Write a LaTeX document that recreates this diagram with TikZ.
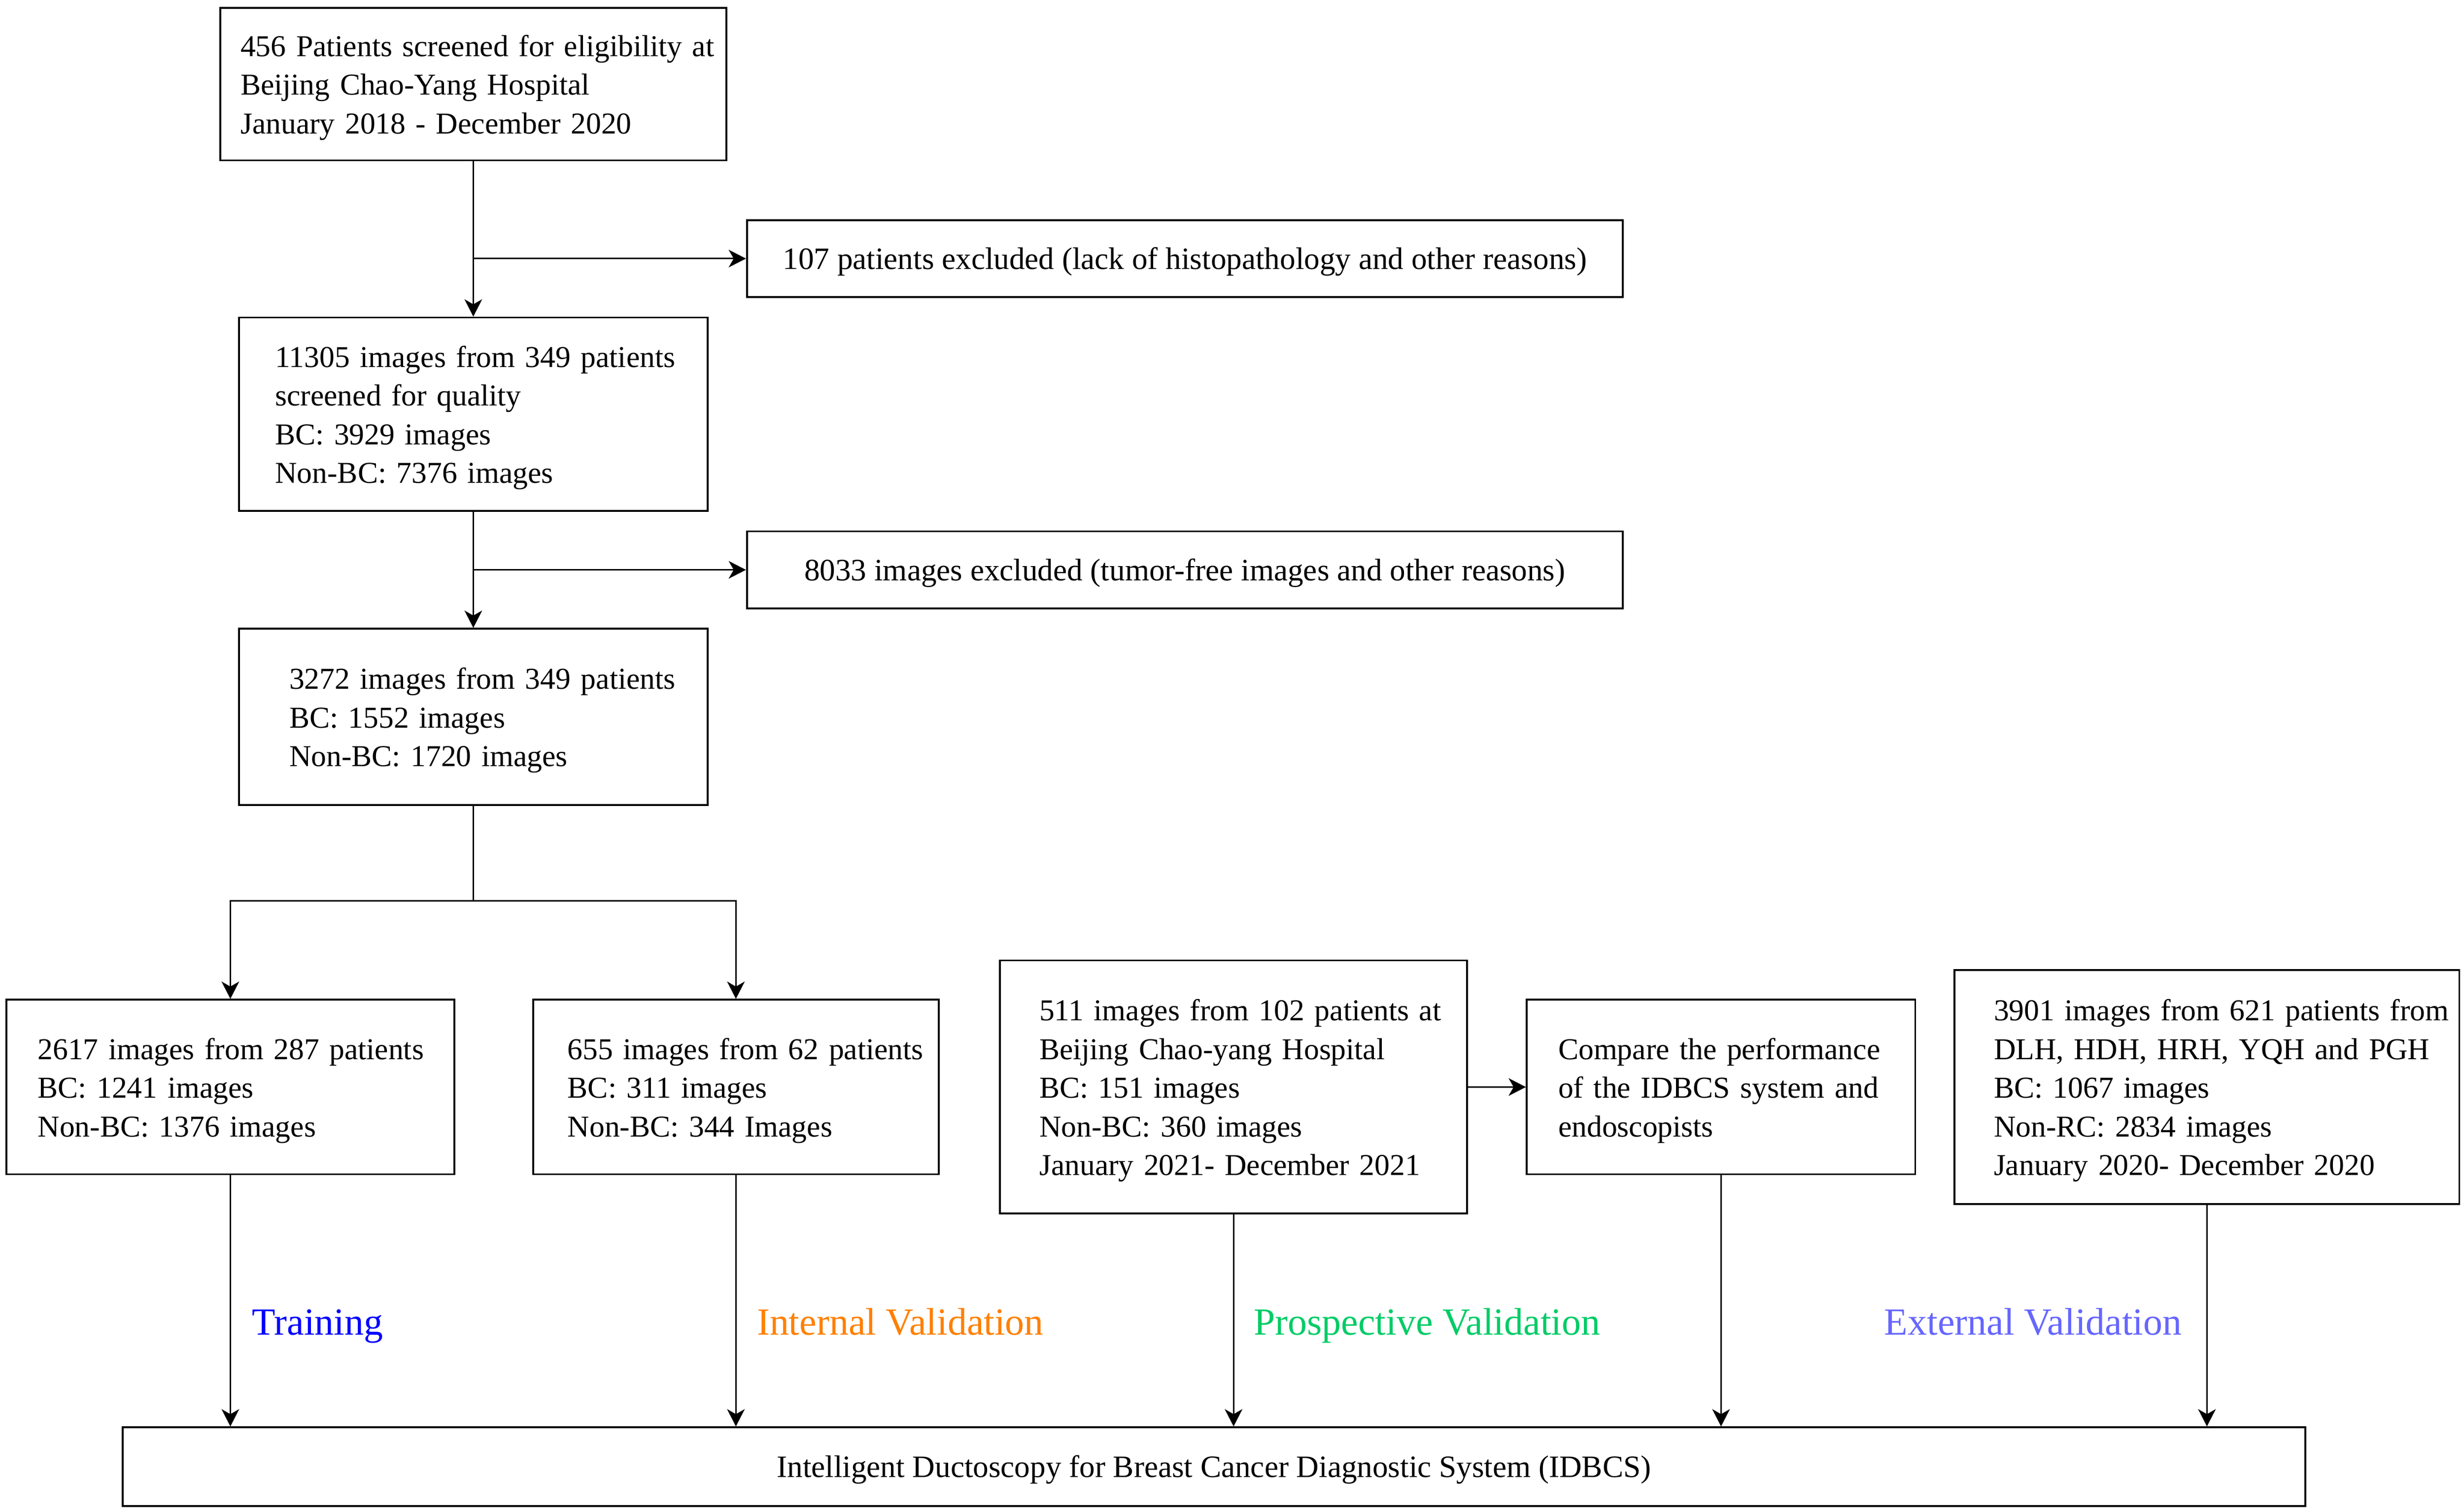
\documentclass[tikz,border=0pt]{standalone}
\usepackage{fontspec}
\setmainfont{Liberation Serif}
\usetikzlibrary{arrows.meta}
\definecolor{cTrain}{RGB}{0,0,255}
\definecolor{cInt}{RGB}{255,128,0}
\definecolor{cPro}{RGB}{0,204,102}
\definecolor{cExt}{RGB}{102,102,255}
\newcommand\tstrut{\rule{0pt}{9pt}}
\begin{document}
\begin{tikzpicture}[x=0.5pt,y=-0.5pt,
  box/.style={draw, line width=0.6pt, rectangle, inner ysep=0pt,
    font=\fontsize{9.65}{12.3}\selectfont},
  lbox/.style={box, align=left},
  cbox/.style={box, align=center, font=\fontsize{9.9}{12.3}\selectfont},
  arr/.style={-{Stealth[length=5.5pt,width=5.6pt,inset=1.6pt]}, line width=0.45pt},
  ln/.style={line width=0.45pt},
  lab/.style={anchor=base west, inner sep=0pt, font=\fontsize{12.2}{14}\selectfont}]
\useasboundingbox (0,0) rectangle (1567,961);

\node[lbox, minimum height=48.5pt, text width=148pt, inner xsep=6.5pt] (b1) at (301,53.5)
 {\tstrut\mbox{456 Patients screened for eligibility at}\\\mbox{Beijing Chao-Yang Hospital}\\\mbox{January 2018 - December 2020}};
\node[cbox, minimum width=278.5pt, minimum height=24.5pt] (e1) at (753.5,164.5)
 {\tstrut 107 patients excluded (lack of histopathology and other reasons)};
\node[lbox, minimum height=61.5pt, text width=126pt, inner xsep=11.5pt] (b2) at (301,263.5)
 {\tstrut\mbox{11305 images from 349 patients}\\\mbox{screened for quality}\\\mbox{BC: 3929 images}\\\mbox{Non-BC: 7376 images}};
\node[cbox, minimum width=278.5pt, minimum height=24.5pt] (e2) at (753.5,362.5)
 {\tstrut 8033 images excluded (tumor-free images and other reasons)};
\node[lbox, minimum height=56pt, text width=117pt, inner xsep=16pt] (b3) at (301,456)
 {\tstrut\mbox{3272 images from 349 patients}\\\mbox{BC: 1552 images}\\\mbox{Non-BC: 1720 images}};
\node[lbox, minimum height=55.5pt, text width=122.5pt, inner xsep=10pt] (b4) at (146.5,691.5)
 {\tstrut\mbox{2617 images from 287 patients}\\\mbox{BC: 1241 images}\\\mbox{Non-BC: 1376 images}};
\node[lbox, minimum height=55.5pt, text width=107pt, inner xsep=11pt] (b5) at (468,691.5)
 {\tstrut\mbox{655 images from 62 patients}\\\mbox{BC: 311 images}\\\mbox{Non-BC: 344 Images}};
\node[lbox, minimum height=80.5pt, text width=123.5pt, inner xsep=12.5pt] (b6) at (784.5,691.5)
 {\tstrut\mbox{511 images from 102 patients at}\\\mbox{Beijing Chao-yang Hospital}\\\mbox{BC: 151 images}\\\mbox{Non-BC: 360 images}\\\mbox{January 2021- December 2021}};
\node[lbox, minimum height=55.5pt, text width=103.5pt, inner xsep=10pt] (b7) at (1094.5,691.5)
 {\tstrut\mbox{Compare the performance}\\\mbox{of the IDBCS system and}\\\mbox{endoscopists}};
\node[lbox, minimum height=74.5pt, text width=135.5pt, inner xsep=12.5pt] (b8) at (1403.5,691.5)
 {\tstrut\mbox{3901 images from 621 patients from}\\\mbox{DLH, HDH, HRH, YQH and PGH}\\\mbox{BC: 1067 images}\\\mbox{Non-RC: 2834 images}\\\mbox{January 2020- December 2020}};
\node[cbox, minimum width=694pt, minimum height=25pt] (bot) at (772,933)
 {\tstrut Intelligent Ductoscopy for Breast Cancer Diagnostic System (IDBCS)};

\node[lab, text=cTrain] (lt) at (160,849) {Training};
\node[lab, text=cInt] (li) at (481,849) {Internal Validation};
\node[lab, text=cPro] (lp) at (797,849) {Prospective Validation};
\node[lab, text=cExt] (lx) at (1198,849) {External Validation};

\draw[arr] (b1.south) -- (b2.north);
\coordinate (j1) at (b1.south |- e1.west);
\draw[arr] (j1) -- (e1.west);
\draw[arr] (b2.south) -- (b3.north);
\coordinate (j2) at (b2.south |- e2.west);
\draw[arr] (j2) -- (e2.west);
\coordinate (j3) at (301,573);
\draw[ln] (b3.south) -- (j3);
\draw[arr] (j3) -| (b4.north);
\draw[arr] (j3) -| (b5.north);
\draw[arr] (b6.east) -- (b7.west);
\draw[arr] (b4.south) -- (b4.south |- bot.north);
\draw[arr] (b5.south) -- (b5.south |- bot.north);
\draw[arr] (b6.south) -- (b6.south |- bot.north);
\draw[arr] (b7.south) -- (b7.south |- bot.north);
\draw[arr] (b8.south) -- (b8.south |- bot.north);
\end{tikzpicture}
\end{document}
